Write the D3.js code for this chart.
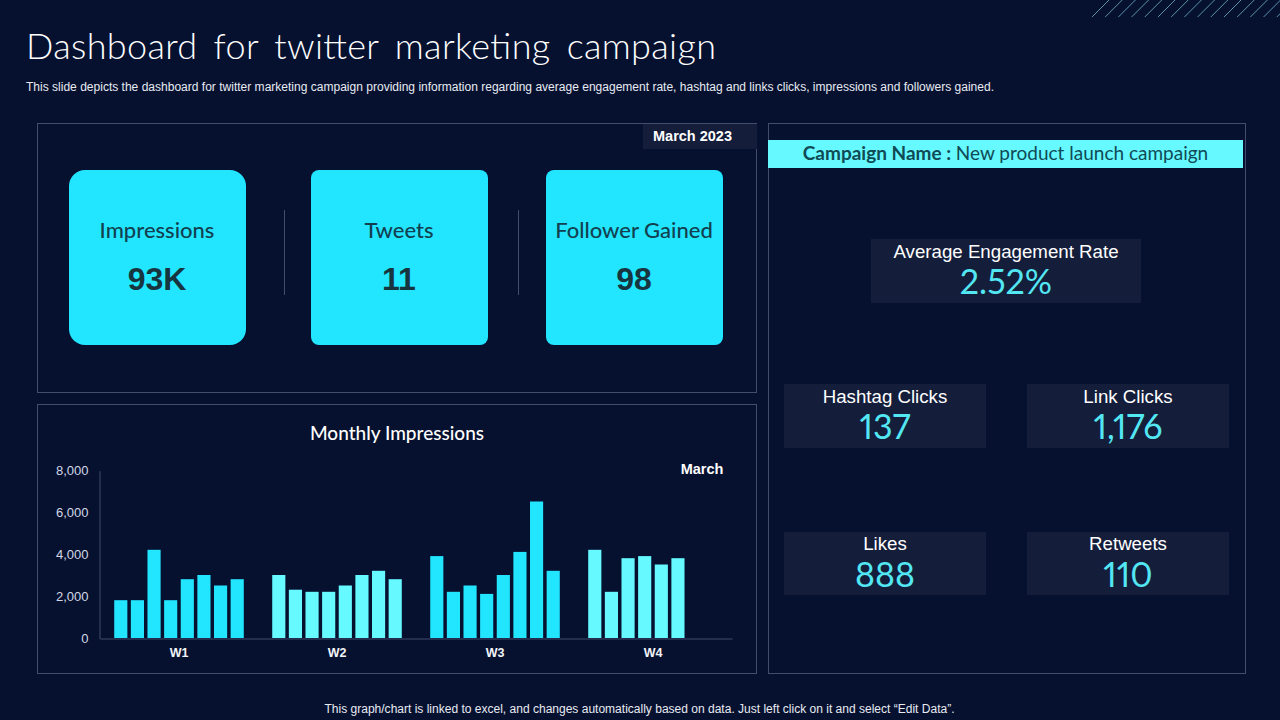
<!DOCTYPE html>
<html>
<head>
<meta charset="utf-8">
<script src="https://cdn.jsdelivr.net/npm/d3@7"></script>
<style>
  html, body { margin: 0; padding: 0; background: #061130; overflow: hidden; }
  text { font-family: "Liberation Sans", Arial, sans-serif; }
</style>
</head>
<body>
<div id="chart"></div>
<script>
// chart data
const weeks = ["W1", "W2", "W3", "W4"];
const w1Values = [1800, 1800, 4200, 1800, 2800, 3000, 2500, 2800];
const w2Values = [3000, 2300, 2200, 2200, 2500, 3000, 3200, 2800];
const w3Values = [3900, 2200, 2500, 2100, 3000, 4100, 6500, 3200];
const w4Values = [4200, 2200, 3800, 3900, 3500, 3800];
const weekValues = [w1Values, w2Values, w3Values, w4Values];
const yTicks = [0, 2000, 4000, 6000, 8000];

const cardLabels = ["Impressions", "Tweets", "Follower Gained"];
const cardValues = ["93K", "11", "98"];
const tileLabels = ["Average Engagement Rate", "Hashtag Clicks", "Link Clicks", "Likes", "Retweets"];
const tileValues = ["2.52%", "137", "1,176", "888", "110"];

const titleFont = "Lato";
const BG = "#061130", CYAN = "#22e5ff", AQUA = "#66f9ff", TILE = "#141d3a", LINE = "#414d6e";

const svg = d3.select("#chart").append("svg")
    .attr("width", 1280)
    .attr("height", 720)
    .style("display", "block");

svg.append("rect").attr("width", 1280).attr("height", 720).attr("fill", BG);

// hatching, top right corner
svg.append("g").selectAll("line")
    .data(d3.range(1092, 1290, 13.2))
    .join("line")
    .attr("x1", d => d).attr("y1", 17)
    .attr("x2", d => d + 17).attr("y2", 0)
    .attr("stroke", "#5b93ad")
    .attr("stroke-width", 1);

// header
svg.append("text")
    .attr("x", 26).attr("y", 59)
    .attr("textLength", 690)
    .attr("lengthAdjust", "spacing")
    .style("font-family", titleFont)
    .style("font-weight", 300)
    .style("font-size", "36px")
    .style("word-spacing", "6px")
    .attr("fill", "#ffffff")
    .text("Dashboard for twitter marketing campaign");

svg.append("text")
    .attr("x", 26).attr("y", 91)
    .attr("textLength", 968)
    .attr("lengthAdjust", "spacingAndGlyphs")
    .style("font-size", "12px")
    .attr("fill", "#e8ebf2")
    .text("This slide depicts the dashboard for twitter marketing campaign providing information regarding average engagement rate, hashtag and links clicks, impressions and followers gained.");

svg.append("text")
    .attr("x", 639.5).attr("y", 713)
    .attr("text-anchor", "middle")
    .attr("textLength", 630)
    .attr("lengthAdjust", "spacingAndGlyphs")
    .style("font-size", "12px")
    .attr("fill", "#e8ebf2")
    .text("This graph/chart is linked to excel, and changes automatically based on data. Just left click on it and select \u201cEdit Data\u201d.");

// panel outlines
svg.append("g").selectAll("rect")
    .data([[38, 124, 719, 269], [38, 405, 719, 269], [769, 124, 477, 550]])
    .join("rect")
    .attr("x", d => d[0] - 0.5).attr("y", d => d[1] - 0.5)
    .attr("width", d => d[2]).attr("height", d => d[3])
    .attr("fill", "none")
    .attr("stroke", LINE);

// date tag
svg.append("rect")
    .attr("x", 643).attr("y", 124).attr("width", 114).attr("height", 25)
    .attr("fill", TILE);
svg.append("text")
    .attr("x", 692.5).attr("y", 141)
    .attr("text-anchor", "middle")
    .style("font-size", "14.5px").style("font-weight", 700)
    .attr("fill", "#ffffff")
    .text("March 2023");

// KPI cards
const cardX = [69, 311, 546];
const cardR = [16, 8, 8];
const cards = svg.append("g").selectAll("g")
    .data(cardLabels)
    .join("g")
    .attr("transform", (d, i) => `translate(${cardX[i]},170)`);
cards.append("rect")
    .attr("width", 177).attr("height", 175)
    .attr("rx", (d, i) => cardR[i])
    .attr("fill", CYAN);
cards.append("text")
    .attr("x", 88).attr("y", 68)
    .attr("text-anchor", "middle")
    .style("font-family", titleFont)
    .style("font-size", "22px")
    .style("font-weight", 500)
    .attr("fill", "#12404f")
    .text(d => d);
cards.append("text")
    .attr("x", 88).attr("y", 120)
    .attr("text-anchor", "middle")
    .style("font-size", "32px").style("font-weight", 700)
    .attr("fill", "#17353f")
    .text((d, i) => cardValues[i]);

svg.append("g").selectAll("line")
    .data([284.5, 518.5])
    .join("line")
    .attr("x1", d => d).attr("x2", d => d)
    .attr("y1", 210).attr("y2", 295)
    .attr("stroke", LINE);

// bar chart
svg.append("text")
    .attr("x", 397).attr("y", 440)
    .attr("text-anchor", "middle")
    .style("font-family", titleFont)
    .style("font-size", "19px").style("font-weight", 500)
    .attr("fill", "#ffffff")
    .text("Monthly Impressions");

svg.append("text")
    .attr("x", 702).attr("y", 474)
    .attr("text-anchor", "middle")
    .style("font-size", "14.5px").style("font-weight", 700)
    .attr("fill", "#ffffff")
    .text("March");

const y = d3.scaleLinear().domain([0, 8000]).range([638, 470]);
const x0 = d3.scaleBand().domain(weeks).range([100, 732]).paddingInner(0.18).paddingOuter(0.09);
const x1 = d3.scaleBand().domain(d3.range(8)).range([0, x0.bandwidth()]).paddingInner(0.21).paddingOuter(0);

const yAxis = svg.append("g")
    .attr("transform", "translate(99.5,0.7)")
    .call(d3.axisLeft(y).tickValues(yTicks).tickSize(0).tickPadding(11).tickFormat(d3.format(",")));
yAxis.select(".domain").attr("stroke", LINE);
yAxis.selectAll("text").style("font-size", "13px").attr("fill", "#d3d8e6");

const xAxis = svg.append("g")
    .attr("transform", "translate(0,638.5)")
    .call(d3.axisBottom(x0).tickSize(0).tickPadding(10));
xAxis.select(".domain").attr("stroke", LINE);
xAxis.selectAll("text").style("font-size", "12.5px").style("font-weight", 700).attr("fill", "#f2f4f8");

svg.append("g").selectAll("g")
    .data(weeks)
    .join("g")
    .attr("transform", d => `translate(${x0(d)},0)`)
    .attr("fill", (d, i) => i % 2 ? AQUA : CYAN)
    .selectAll("rect")
    .data((d, i) => weekValues[i])
    .join("rect")
    .attr("x", (d, i) => x1(i))
    .attr("y", d => y(d))
    .attr("width", x1.bandwidth())
    .attr("height", d => y(0) - y(d));

// campaign banner
svg.append("rect")
    .attr("x", 768).attr("y", 140).attr("width", 475).attr("height", 28)
    .attr("fill", AQUA);
const banner = svg.append("text")
    .attr("x", 1005.5).attr("y", 160)
    .attr("text-anchor", "middle")
    .style("font-family", titleFont)
    .style("font-size", "19px")
    .attr("fill", "#104a55");
banner.append("tspan").style("font-weight", 700).text("Campaign Name : ");
banner.append("tspan").text("New product launch campaign");

// metric tiles
const tileX = [871, 784, 1027, 784, 1027];
const tileY = [239, 384, 384, 532, 532];
const tileW = [270, 202, 202, 202, 202];
const tileH = [64, 64, 64, 63, 63];
const labelY = [19, 19, 19, 18, 18];
const tiles = svg.append("g").selectAll("g")
    .data(tileLabels)
    .join("g")
    .attr("transform", (d, i) => `translate(${tileX[i]},${tileY[i]})`);
tiles.append("rect")
    .attr("width", (d, i) => tileW[i])
    .attr("height", (d, i) => tileH[i])
    .attr("fill", TILE);
tiles.append("text")
    .attr("x", (d, i) => tileW[i] / 2).attr("y", (d, i) => labelY[i])
    .attr("text-anchor", "middle")
    .style("font-size", "18.7px")
    .attr("fill", "#ffffff")
    .text(d => d);
tiles.append("text")
    .attr("x", (d, i) => tileW[i] / 2).attr("y", 55)
    .attr("text-anchor", "middle")
    .style("font-family", titleFont)
    .style("font-size", "34px")
    .style("font-variant-numeric", "proportional-nums")
    .attr("fill", "#53e6f3")
    .text((d, i) => tileValues[i]);
</script>
</body>
</html>
